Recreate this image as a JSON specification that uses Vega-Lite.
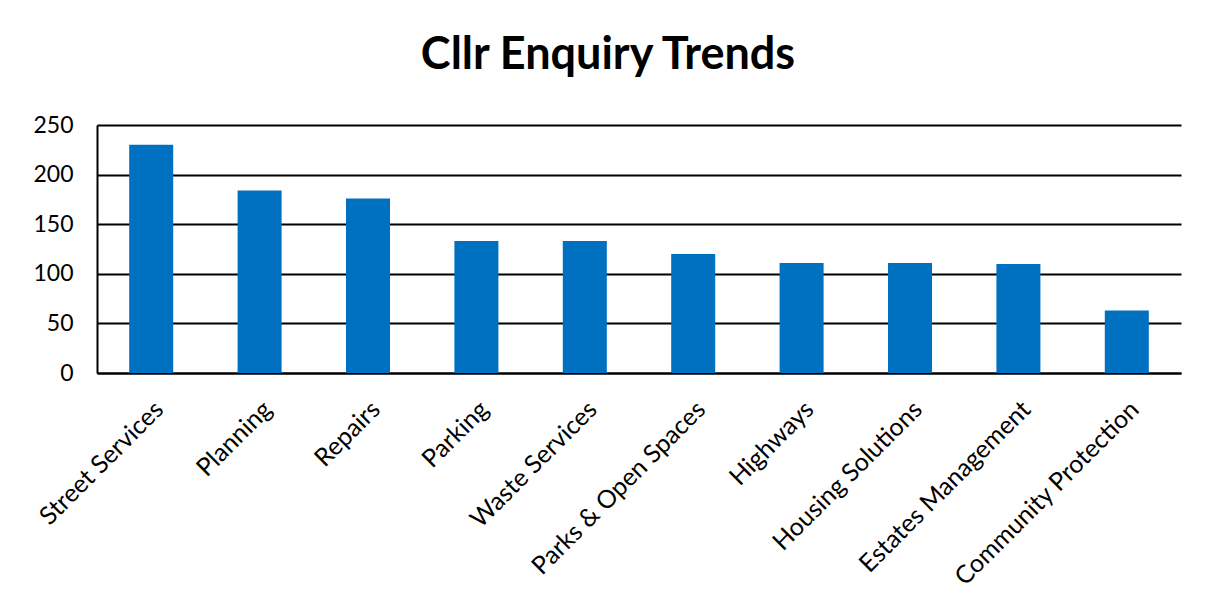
{
  "$schema": "https://vega.github.io/schema/vega-lite/v6.json",
  "autosize": "none",
  "width": 1084,
  "height": 248,
  "padding": {"left": 97, "top": 125, "right": 28, "bottom": 222},
  "background": "white",
  "title": {
    "text": "Cllr Enquiry Trends",
    "font": "Lato",
    "fontSize": 45,
    "fontWeight": "bold",
    "color": "black",
    "anchor": "middle",
    "dx": -31,
    "offset": 36
  },
  "data": {
    "values": [
      {"category": "Street Services", "count": 230},
      {"category": "Planning", "count": 184},
      {"category": "Repairs", "count": 176},
      {"category": "Parking", "count": 133},
      {"category": "Waste Services", "count": 133},
      {"category": "Parks & Open Spaces", "count": 120},
      {"category": "Highways", "count": 111},
      {"category": "Housing Solutions", "count": 111},
      {"category": "Estates Management", "count": 110},
      {"category": "Community Protection", "count": 63}
    ]
  },
  "mark": {"type": "bar", "color": "#0070C0"},
  "encoding": {
    "x": {
      "field": "category",
      "type": "nominal",
      "sort": null,
      "scale": {"paddingInner": 0.594, "paddingOuter": 0.297},
      "axis": {
        "title": null,
        "labelAngle": -45,
        "labelAlign": "right",
        "labelBaseline": "middle",
        "labelFont": "Lato",
        "labelFontSize": 25,
        "labelColor": "black",
        "labelPadding": 32,
        "labelOffset": 8,
        "labelLimit": 0,
        "labelOverlap": false,
        "ticks": false,
        "domainColor": "black",
        "domainWidth": 2,
        "grid": false
      }
    },
    "y": {
      "field": "count",
      "type": "quantitative",
      "scale": {"domain": [0, 250], "nice": false},
      "axis": {
        "title": null,
        "values": [0, 50, 100, 150, 200, 250],
        "labelFont": "Lato",
        "labelFontSize": 23,
        "labelColor": "black",
        "labelPadding": 24,
        "ticks": false,
        "domainColor": "black",
        "domainWidth": 2,
        "grid": true,
        "gridColor": "black",
        "gridWidth": 2,
        "gridOpacity": 1
      }
    }
  },
  "config": {
    "view": {"stroke": null},
    "axis": {"zindex": 0}
  }
}
